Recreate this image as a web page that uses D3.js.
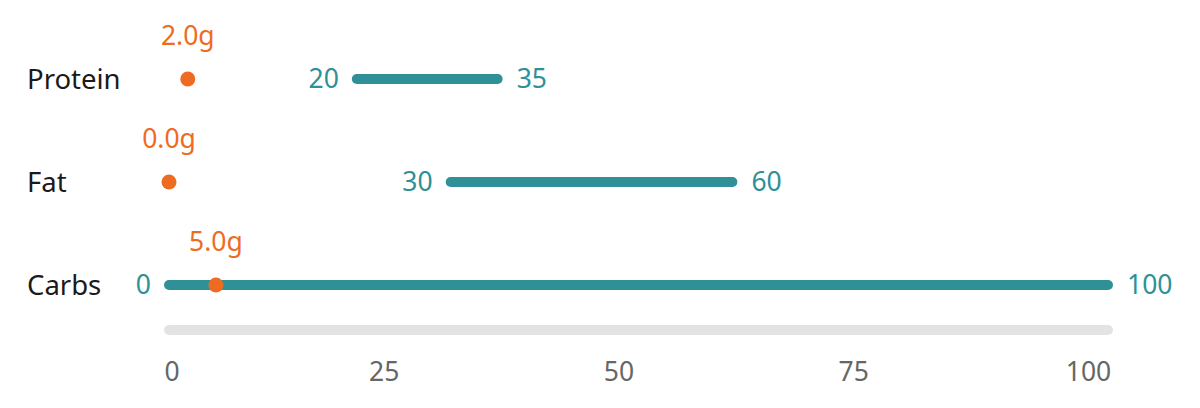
<!DOCTYPE html>
<html>
<head>
<meta charset="utf-8">
<script src="https://cdn.jsdelivr.net/npm/d3@7"></script>
<style>
  html, body { margin: 0; padding: 0; background: #ffffff; }
  svg { display: block; font-family: "Noto Sans", "Open Sans", sans-serif; }
</style>
</head>
<body>
<svg id="chart" width="1200" height="408"></svg>
<script>
// ---- data ----
const categories = ["Protein", "Fat", "Carbs"];
const rangeMin = [20, 30, 0];
const rangeMax = [35, 60, 100];
const actualValues = [2.0, 0.0, 5.0];
const tickValues = [0, 25, 50, 75, 100];

// ---- styles ----
const TEAL = "#2f9097";
const ORANGE = "#ee6b22";
const TRACK = "#e3e3e3";
const TICK = "#666666";
const LABEL = "#1a1a1a";
const FS = "26.5px";

const svg = d3.select("#chart");

const x = d3.scaleLinear().domain([0, 100]).range([169, 1108]);
const y = d3.scalePoint().domain(categories).range([79, 285]);

const barWidth = 10;
const trackLeft = x(0) - barWidth / 2;
const trackRight = x(100) + barWidth / 2;

// background track
svg.append("line")
  .attr("x1", x(0)).attr("x2", x(100))
  .attr("y1", 330).attr("y2", 330)
  .attr("stroke", TRACK)
  .attr("stroke-width", barWidth)
  .attr("stroke-linecap", "round");

// axis (tick labels only)
const axis = d3.axisBottom(x).tickValues(tickValues).tickSize(0).tickFormat(d3.format("d"));
const axisG = svg.append("g").attr("transform", "translate(0,372)").call(axis);
axisG.select(".domain").remove();
axisG.selectAll("text")
  .attr("y", 0)
  .attr("dy", "0.35em")
  .attr("fill", TICK)
  .style("font-family", "'Noto Sans', 'Open Sans', sans-serif")
  .style("font-size", FS)
  .each(function(d) {
    const w = this.getComputedTextLength();
    let c = x(d) - 20;
    c = Math.max(trackLeft + w / 2, Math.min(trackRight - w / 2, c));
    d3.select(this).attr("dx", c - x(d));
  });

const data = categories.map((c, i) => ({
  cat: c, lo: rangeMin[i], hi: rangeMax[i], val: actualValues[i]
}));

const rows = svg.selectAll("g.row").data(data).join("g")
  .attr("class", "row")
  .attr("transform", d => `translate(0,${y(d.cat)})`);

// category labels
rows.append("text")
  .attr("x", 27)
  .attr("dy", "0.35em")
  .attr("fill", LABEL)
  .style("font-size", "27.5px")
  .text(d => d.cat);

// range bars
rows.append("line")
  .attr("x1", d => x(d.lo)).attr("x2", d => x(d.hi))
  .attr("y1", 0).attr("y2", 0)
  .attr("stroke", TEAL)
  .attr("stroke-width", barWidth)
  .attr("stroke-linecap", "round");

// range labels
rows.append("text")
  .attr("x", d => x(d.lo) - barWidth / 2 - 13)
  .attr("dy", "0.35em")
  .attr("text-anchor", "end")
  .attr("fill", TEAL)
  .style("font-size", FS)
  .text(d => d.lo);

rows.append("text")
  .attr("x", d => x(d.hi) + barWidth / 2 + 14)
  .attr("dy", "0.35em")
  .attr("fill", TEAL)
  .style("font-size", FS)
  .text(d => d.hi);

// actual value dots
rows.append("circle")
  .attr("cx", d => x(d.val))
  .attr("cy", 0)
  .attr("r", 7.5)
  .attr("fill", ORANGE);

rows.append("text")
  .attr("x", d => x(d.val))
  .attr("y", -43)
  .attr("dy", "0.35em")
  .attr("text-anchor", "middle")
  .attr("fill", ORANGE)
  .style("font-size", FS)
  .text(d => d3.format(".1f")(d.val) + "g");
</script>
</body>
</html>
